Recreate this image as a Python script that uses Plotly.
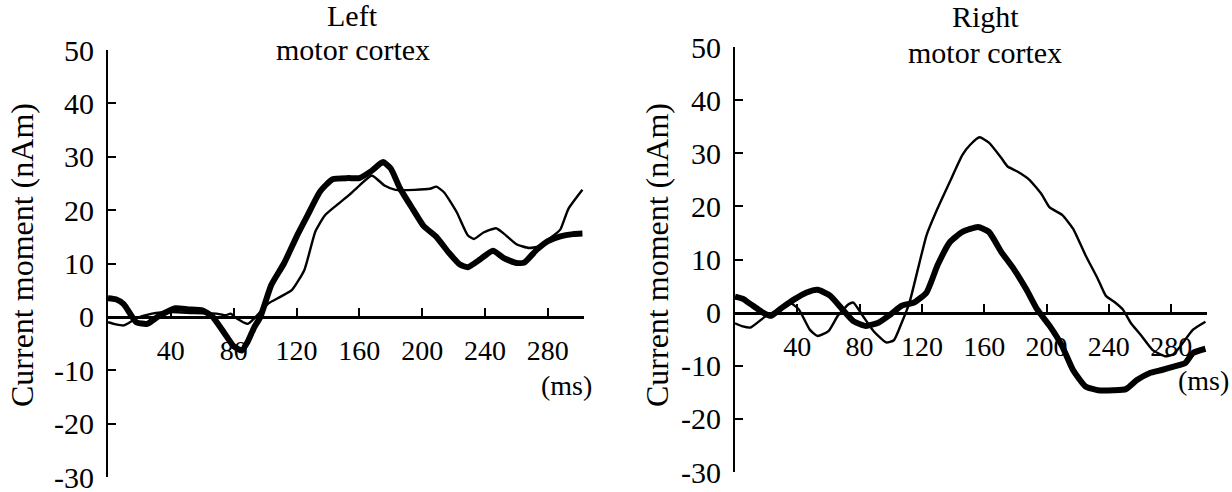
import plotly.graph_objects as go

# ---------------- data ----------------
left_thick_t = [0, 5, 10, 18, 25, 33, 43, 51, 60, 66, 74, 80, 85, 89, 93, 97, 104, 112, 120, 127, 135, 143,
                153, 160, 168, 175, 180, 186, 194, 201, 209, 217, 224, 229, 237, 245, 252, 260, 265, 273,
                280, 288, 296, 302]
left_thick_v = [3.5, 3.3, 2.4, -1.0, -1.3, 0.3, 1.6, 1.4, 1.2, 0.2, -3.0, -5.5, -6.3, -4.6, -2.0, 0.0, 6.0,
                10.0, 15.0, 19.0, 23.5, 25.8, 26.0, 26.0, 27.4, 29.0, 27.8, 24.0, 20.2, 17.0, 15.0, 12.0,
                9.8, 9.3, 10.8, 12.4, 11.0, 10.1, 10.2, 12.6, 14.2, 15.1, 15.5, 15.6]

left_thin_t = [0, 5, 10, 18, 28, 41, 55, 69, 75, 78, 82, 89, 94, 102, 110, 117, 125, 132, 138, 145, 153, 160,
               168, 176, 183, 195, 205, 209, 214, 222, 229, 233, 239, 247, 252, 260, 268, 274, 283, 288, 293,
               302]
left_thin_v = [-1.0, -1.4, -1.6, -0.3, 0.6, 0.9, 0.7, 0.6, 0.3, 0.6, -0.3, -1.3, 0.0, 2.5, 3.8, 5.0, 8.8, 16.0,
               19.0, 20.8, 22.7, 24.6, 26.5, 24.6, 23.8, 23.8, 24.0, 24.4, 23.3, 19.6, 15.3, 14.6, 15.8, 16.6,
               15.6, 13.6, 12.9, 13.2, 15.1, 16.4, 20.2, 23.8]

right_thin_t = [0, 5, 10, 20, 28, 35, 41, 48, 53, 60, 66, 73, 76, 82, 89, 97, 102, 107, 112, 118, 123, 130,
                138, 146, 151, 157, 163, 171, 175, 181, 189, 197, 202, 210, 217, 225, 233, 238, 244, 249,
                254, 261, 268, 276, 281, 286, 294, 302]
right_thin_v = [-2.0, -2.6, -2.8, -0.6, 0.6, 1.9, 0.6, -3.2, -4.4, -3.5, -0.6, 1.6, 1.9, -0.6, -3.5, -5.6,
                -5.2, -1.9, 1.9, 8.9, 14.6, 19.6, 24.7, 29.7, 31.6, 33.0, 32.0, 29.1, 27.5, 26.6, 25.0, 22.2,
                19.8, 18.4, 15.8, 10.8, 6.3, 3.2, 1.9, 0.6, -1.9, -4.4, -7.0, -8.2, -7.9, -6.3, -3.2, -1.7]

right_thick_t = [0, 5, 10, 18, 23, 30, 38, 46, 53, 61, 69, 76, 84, 92, 100, 107, 115, 123, 130, 138, 146,
                 156, 163, 171, 179, 187, 194, 202, 210, 217, 225, 233, 243, 251, 258, 266, 274, 281, 289,
                 294, 302]
right_thick_v = [3.0, 2.6, 1.6, 0.0, -0.6, 0.9, 2.5, 3.8, 4.3, 3.2, 0.6, -1.6, -2.5, -1.9, -0.3, 1.3, 1.9,
                 3.8, 8.9, 13.3, 15.2, 16.1, 15.2, 11.4, 8.2, 4.4, 0.6, -2.5, -6.3, -10.8, -13.9, -14.6,
                 -14.6, -14.4, -12.7, -11.4, -10.8, -10.2, -9.5, -7.6, -6.8]

x_ticks = [40, 80, 120, 160, 200, 240, 280]
y_ticks = [50, 40, 30, 20, 10, 0, -10, -20, -30]
y_tick_text = ["50", "40", "30", "20", "10", "0", "-10", "-20", "-30"]
x_range = [0, 303]
y_range = [-30, 50]

panel_titles = [("Left", "motor cortex"), ("Right", "motor cortex")]
y_title = "Current moment (nAm)"
x_unit = "(ms)"

# ---------------- layout helpers ----------------
W, H = 1232, 492
FONT = "Liberation Serif"

def px_x(p):
    return p / W

def px_y(p):
    return 1 - p / H

left_xdom = [px_x(108), px_x(584)]
left_ydom = [px_y(477), px_y(50)]
right_xdom = [px_x(735), px_x(1207)]
right_ydom = [px_y(472), px_y(47)]

def zero_pos(dom):
    return dom[0] + (0 - y_range[0]) / (y_range[1] - y_range[0]) * (dom[1] - dom[0])

fig = go.Figure()

line_shape = dict(shape="spline", smoothing=0.5)
fig.add_trace(go.Scatter(x=left_thin_t, y=left_thin_v, mode="lines",
                         line=dict(color="black", width=2.4, **line_shape), xaxis="x", yaxis="y",
                         showlegend=False, cliponaxis=False))
fig.add_trace(go.Scatter(x=left_thick_t, y=left_thick_v, mode="lines",
                         line=dict(color="black", width=6, **line_shape), xaxis="x", yaxis="y",
                         showlegend=False, cliponaxis=False))
fig.add_trace(go.Scatter(x=right_thin_t, y=right_thin_v, mode="lines",
                         line=dict(color="black", width=2.4, **line_shape), xaxis="x2", yaxis="y2",
                         showlegend=False, cliponaxis=False))
fig.add_trace(go.Scatter(x=right_thick_t, y=right_thick_v, mode="lines",
                         line=dict(color="black", width=6, **line_shape), xaxis="x2", yaxis="y2",
                         showlegend=False, cliponaxis=False))

def xaxis_cfg(dom, ydom):
    return dict(domain=dom, range=x_range, anchor="free", position=zero_pos(ydom),
                showline=True, linecolor="black", linewidth=2.5, ticks="inside", ticklen=8,
                tickwidth=2, tickcolor="black", tickvals=x_ticks, showgrid=False, zeroline=False,
                tickfont=dict(family=FONT, size=28, color="black"), ticklabelstandoff=8,
                ticklabeloverflow="allow", fixedrange=True, automargin=False)

def yaxis_cfg(dom, xname):
    return dict(domain=dom, range=y_range, anchor=xname, showline=True, linecolor="black",
                linewidth=2.2, ticks="inside", ticklen=8, tickwidth=2, tickcolor="black",
                tickvals=y_ticks, ticktext=y_tick_text, showgrid=False, zeroline=False,
                tickfont=dict(family=FONT, size=30, color="black"), ticklabelstandoff=6,
                ticklabeloverflow="allow", fixedrange=True, automargin=False)

fig.update_layout(
    template="none",
    width=W, height=H, autosize=False,
    margin=dict(l=0, r=0, t=0, b=0, pad=0, autoexpand=False),
    paper_bgcolor="white", plot_bgcolor="white",
    font=dict(family=FONT, color="black"),
    xaxis=xaxis_cfg(left_xdom, left_ydom), yaxis=yaxis_cfg(left_ydom, "x"),
    xaxis2=xaxis_cfg(right_xdom, right_ydom), yaxis2=yaxis_cfg(right_ydom, "x2"),
)

ann = []
tfont = dict(family=FONT, size=30, color="black")
# panel titles
ann.append(dict(text=panel_titles[0][0], x=px_x(352), y=px_y(15)))
ann.append(dict(text=panel_titles[0][1], x=px_x(353), y=px_y(49)))
ann.append(dict(text=panel_titles[1][0], x=px_x(985), y=px_y(17)))
ann.append(dict(text=panel_titles[1][1], x=px_x(985), y=px_y(52)))
ann = [dict(a, xref="paper", yref="paper", showarrow=False, xanchor="center", yanchor="middle",
            font=tfont) for a in ann]
# y titles
for xc, yc in [(22, 255), (657, 255)]:
    ann.append(dict(text=y_title, x=px_x(xc), y=px_y(yc), xref="paper", yref="paper", showarrow=False,
                    textangle=-90, xanchor="center", yanchor="middle",
                    font=dict(family=FONT, size=32, color="black")))
# unit labels
ann.append(dict(text=x_unit, x=px_x(566), y=px_y(385), xref="paper", yref="paper", showarrow=False,
                xanchor="center", yanchor="middle", font=dict(family=FONT, size=28, color="black")))
ann.append(dict(text=x_unit, x=px_x(1231), y=px_y(380), xref="paper", yref="paper", showarrow=False,
                xanchor="right", yanchor="middle", font=dict(family=FONT, size=28, color="black")))
fig.update_layout(annotations=ann)

fig.write_html("out.html", config={"displayModeBar": False})
